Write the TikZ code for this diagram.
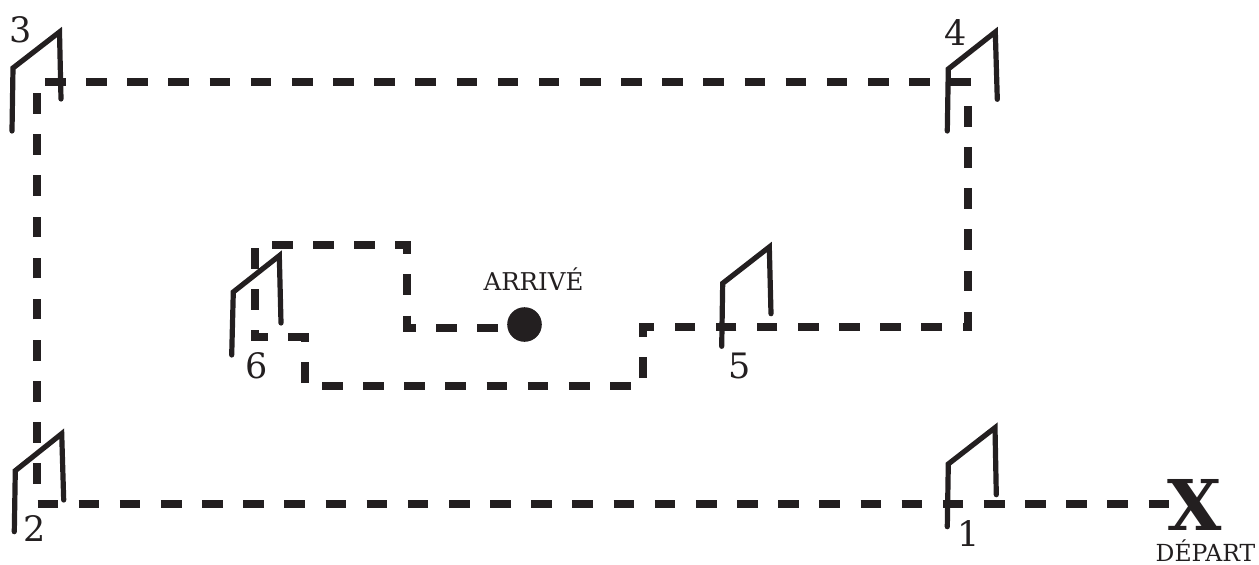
\documentclass[tikz,border=0pt]{standalone}
\usepackage{fontspec}
\setmainfont{DejaVu Serif}
\definecolor{ink}{HTML}{231F20}
\tikzset{
  route/.style={draw=ink,line width=8pt,line cap=butt,dash pattern=on 20.6pt off 20.55pt},
  flag/.style={draw=ink,line width=5.2pt,line cap=round,line join=miter},
  digit/.style={inner sep=0pt,anchor=base,text=ink,font=\fontsize{35}{40}\selectfont},
  caption/.style={inner sep=0pt,anchor=base,text=ink,font=\fontsize{24.5}{28}\selectfont},
  bigmark/.style={inner sep=0pt,anchor=base,text=ink,font=\fontsize{70}{80}\selectfont\bfseries},
}
\begin{document}
\begin{tikzpicture}[x=1pt,y=-1pt]
\useasboundingbox (0,0) rectangle (1259,565);
% route end points
\coordinate (a1) at (37.5,504); \coordinate (a2) at (1170,504);
\coordinate (b1) at (37,484);   \coordinate (b2) at (37,93);
\coordinate (c1) at (45,81.5);  \coordinate (c2) at (972,81.5);
\coordinate (d1) at (968.4,106);\coordinate (d2) at (968.4,331);
\coordinate (e1) at (942,327);  \coordinate (e2) at (639,327);
\coordinate (e3) at (972,327);  \coordinate (e4) at (963,327);
\coordinate (f1) at (643,378);  \coordinate (f2) at (643,323);
\coordinate (g1) at (322,386);  \coordinate (g2) at (631,386);
\coordinate (h1) at (305,383);  \coordinate (h2) at (305,333);
\coordinate (i1) at (309,337);  \coordinate (i2) at (251,337);
\coordinate (j1) at (255,248);  \coordinate (j2) at (255,340);
\coordinate (k1) at (272,244.5);\coordinate (k2) at (411,244.5);
\coordinate (l1) at (407,241);  \coordinate (l2) at (407,332);
\coordinate (m1) at (498,328);  \coordinate (m2) at (403,328);
% route
\path[route] (a1) -- (a2);
\path[route] (b1) -- (b2);
\path[route] (c1) -- (c2);
\path[route] (d1) -- (d2);
\path[route] (e1) -- (e2);
\path[route] (e3) -- (e4);
\path[route] (f1) -- (f2);
\path[route] (g1) -- (g2);
\path[route] (h1) -- (h2);
\path[route] (i1) -- (i2);
\path[route] (j1) -- (j2);
\path[route] (k1) -- (k2);
\path[route,dash phase=7.7pt] (l1) -- (l2);
\path[route] (m1) -- (m2);
% flags
\draw[flag] (947.3,526.7) -- (948.3,464) -- (995,427.7) -- (996.3,494.7);
\draw[flag] (14.3,531.7) -- (15.3,470.7) -- (61.7,433.7) -- (63.7,500);
\draw[flag] (12,131) -- (13,68) -- (59.5,32) -- (61,99);
\draw[flag] (947.3,131) -- (948.3,69) -- (995.3,32) -- (997.3,99.3);
\draw[flag] (721.7,346.3) -- (722.7,283.3) -- (769.3,247) -- (771,313.7);
\draw[flag] (231.7,355) -- (233.3,292) -- (279.3,255.7) -- (281,323);
% arrival dot
\node[circle,fill=ink,inner sep=0pt,minimum size=34.6pt] (dot) at (524.5,324.5) {};
% labels
\node[digit] (n1) at (969,546) {1};
\node[digit] (n2) at (34.5,541) {2};
\node[digit] (n3) at (21,42) {3};
\node[digit] (n4) at (956,45) {4};
\node[digit] (n5) at (740,378) {5};
\node[digit] (n6) at (257,378) {6};
\node[caption] (arr) at (533.5,290) {ARRIVÉ};
\node[caption,font=\fontsize{23.5}{28}\selectfont] (dep) at (1205.5,561.5) {DÉPART};
\node[bigmark] (x) at (1195,530.5) {X};
\end{tikzpicture}
\end{document}
